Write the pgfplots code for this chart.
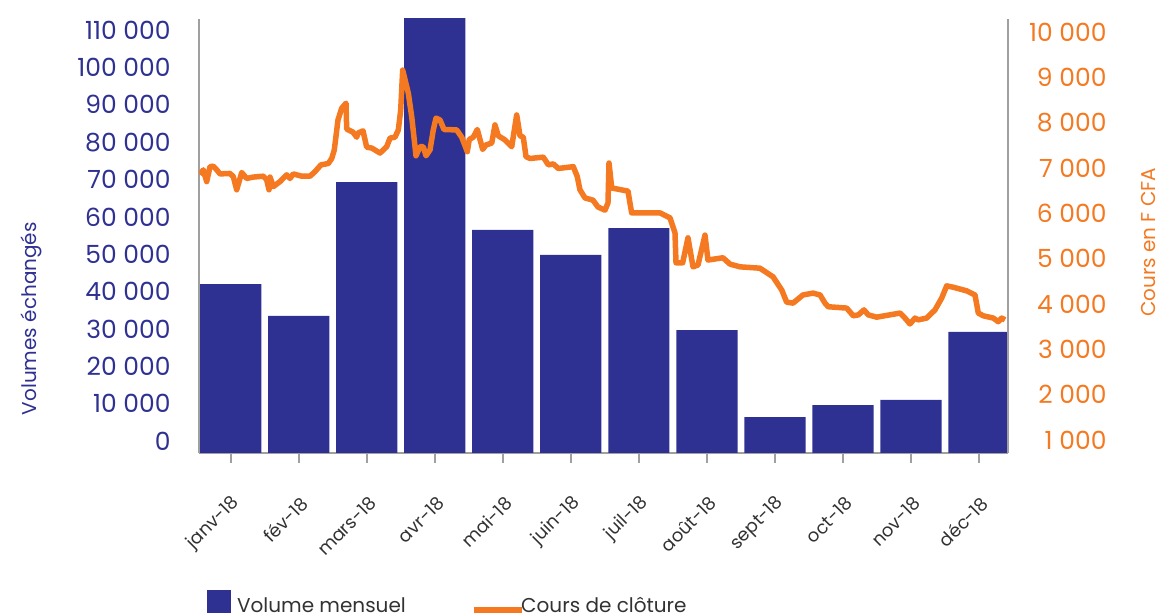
\documentclass[border=0pt]{standalone}
\usepackage{fontspec}
\setmainfont{Poppins}
\usepackage{pgfplots}
\pgfplotsset{compat=1.18}
\definecolor{barblue}{RGB}{46,49,146}
\definecolor{lineorange}{RGB}{244,121,32}
\definecolor{axisgray}{RGB}{160,160,160}
\definecolor{textgray}{RGB}{50,50,50}
\newcommand\tf{\fontsize{25}{30}\selectfont}
\newcommand\lf{\fontsize{20}{24}\selectfont}
\newcommand\xf{\fontsize{18}{21}\selectfont}
\begin{document}
\begin{tikzpicture}
\useasboundingbox (0,0) rectangle (1164pt,614pt);
\pgfplotsset{
  base/.style={at={(199pt,161.3pt)}, anchor=south west, scale only axis,
    width=808.5pt, height=433.7pt, xmin=-0.466, xmax=11.419,
    axis line style={-, draw=axisgray, line width=2pt},
    scaled ticks=false,
    tick label style={font=\tf}, label style={font=\lf}},
}
\begin{axis}[base,
  ymin=-3132, ymax=112955,
  axis x line*=bottom, axis y line*=left,
  xtick={0,...,11},
  xticklabels={janv-18,fév-18,mars-18,avr-18,mai-18,juin-18,juil-18,août-18,sept-18,oct-18,nov-18,déc-18},
  tick align=outside, major tick length=10pt,
  x tick style={draw=axisgray, line width=2pt},
  y tick style={draw=none},
  xticklabel shift=43.6pt,
  xticklabel style={font=\xf, rotate=45, anchor=east, inner sep=0pt, text=textgray,
    execute at end node={\hspace*{-8.8pt}}},
  ytick={0,10000,20000,30000,40000,50000,60000,70000,80000,90000,100000,110000},
  yticklabels={0,10 000,20 000,30 000,40 000,50 000,60 000,70 000,80 000,90 000,100 000,110 000},
  yticklabel style={xshift=-18.3pt, anchor=east, inner sep=0pt, text=barblue},
  ylabel={Volumes échangés},
  ylabel style={at={(axis description cs:-0.2078,0.309)}, anchor=center, text=barblue},
  bar width=0.9, bar shift=0,
  clip=true,
]
\addplot[ybar, fill=barblue, draw=none] coordinates {
(0,42000) (1,33500) (2,69300) (3,120000) (4,56500) (5,49800)
(6,57000) (7,29700) (8,6400) (9,9600) (10,11000) (11,29200)};
% extension of the bars down to the horizontal axis line
\addplot[ybar, fill=barblue, draw=none, forget plot] coordinates {
(0,-5000) (1,-5000) (2,-5000) (3,-5000) (4,-5000) (5,-5000)
(6,-5000) (7,-5000) (8,-5000) (9,-5000) (10,-5000) (11,-5000)};
\end{axis}
\begin{axis}[base,
  ymin=720, ymax=10287,
  axis x line=none, axis y line*=right,
  ytick={1000,2000,3000,4000,5000,6000,7000,8000,9000,10000},
  yticklabels={1 000,2 000,3 000,4 000,5 000,6 000,7 000,8 000,9 000,10 000},
  major tick length=0pt, y tick style={draw=none},
  yticklabel style={xshift=99.2pt, anchor=east, inner sep=0pt, text=lineorange},
  ylabel={Cours en F CFA},
  ylabel style={at={(axis description cs:1.175,0.485)}, anchor=center, text=lineorange},
  legend columns=2, legend cell align=left,
  legend style={at={(axis description cs:0.0099,-0.3696)}, anchor=south west,
    draw=none, fill=none, inner sep=0pt, outer sep=0pt, column sep=0pt,
    font=\lf, nodes={inner sep=0pt, text=textgray, text height=15pt, text depth=0pt}},
  clip=true,
]
\addlegendimage{legend image code/.code={\fill[barblue] (0pt,-7.5pt) rectangle (23pt,15pt);}}
\addlegendentry{\hspace*{6.7pt}Volume mensuel\hspace*{65pt}}
\addplot[lineorange, line width=5.5pt, line join=round,
  legend image code/.code={\draw[lineorange, line width=6pt] (0pt,-5pt) -- (48.4pt,-5pt);}]
coordinates {
(-0.451,6850) (-0.403,6960) (-0.353,6700) (-0.304,7030) (-0.256,7040) (-0.206,6960)
(-0.157,6870) (-0.010,6880) (0.038,6810) (0.088,6520) (0.162,6900) (0.235,6770)
(0.332,6800) (0.479,6820) (0.529,6740) (0.563,6520) (0.578,6800) (0.626,6590)
(0.725,6700) (0.823,6850) (0.872,6770) (0.920,6870) (1.044,6820) (1.166,6820)
(1.239,6920) (1.327,7070) (1.435,7100) (1.485,7210) (1.523,7400) (1.577,8060)
(1.632,8320) (1.695,8430) (1.705,7860) (1.798,7790) (1.852,7680) (1.871,7770)
(1.945,7820) (1.999,7460) (2.073,7440) (2.195,7330) (2.293,7470) (2.342,7660)
(2.415,7680) (2.464,7840) (2.499,8280) (2.528,9160) (2.611,8650) (2.661,8130)
(2.724,7270) (2.783,7470) (2.831,7470) (2.871,7270) (2.930,7400) (2.978,7840)
(3.018,8100) (3.077,8060) (3.135,7850) (3.322,7840) (3.396,7680) (3.478,7360)
(3.507,7630) (3.566,7680) (3.625,7850) (3.704,7410) (3.753,7510) (3.837,7550)
(3.885,7950) (3.934,7710) (4.032,7620) (4.131,7470) (4.204,8170) (4.253,7710)
(4.301,7680) (4.341,7250) (4.400,7210) (4.595,7240) (4.669,7070) (4.742,7090)
(4.816,6990) (5.036,7030) (5.095,6810) (5.134,6520) (5.208,6340) (5.326,6290)
(5.399,6140) (5.502,6070) (5.546,6230) (5.561,7110) (5.601,6560) (5.840,6490)
(5.894,6010) (6.311,6010) (6.458,5900) (6.531,5570) (6.546,4910) (6.644,4910)
(6.722,5460) (6.796,4820) (6.869,4860) (6.972,5520) (7.016,4970) (7.236,5020)
(7.340,4880) (7.487,4820) (7.780,4790) (7.972,4600) (8.100,4310) (8.173,4040)
(8.266,4020) (8.413,4200) (8.560,4240) (8.663,4200) (8.736,4020) (8.784,3940)
(9.055,3910) (9.152,3740) (9.226,3760) (9.309,3870) (9.372,3760) (9.496,3710)
(9.839,3800) (9.912,3690) (9.985,3560) (10.059,3690) (10.107,3650) (10.231,3690)
(10.353,3870) (10.451,4130) (10.525,4400) (10.622,4370) (10.819,4290) (10.941,4200)
(10.990,3800) (11.063,3740) (11.210,3690) (11.283,3610) (11.334,3690) (11.382,3650)};
\addlegendentry{\hspace*{-4pt}Cours de clôture}
\end{axis}
\end{tikzpicture}
\end{document}
